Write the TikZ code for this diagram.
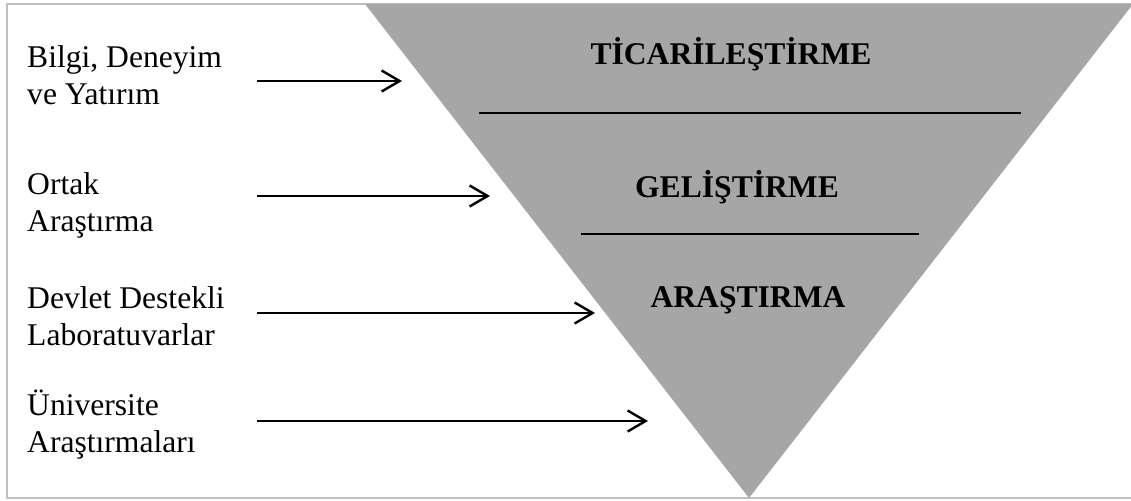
\documentclass[tikz,border=0pt]{standalone}
\usepackage{fontspec}
\setmainfont{Liberation Serif}
\usetikzlibrary{arrows.meta}
\definecolor{funnelgray}{RGB}{166,166,166}
\definecolor{framegray}{RGB}{192,192,192}
\tikzset{
  frameline/.style={draw=framegray, line width=1.5pt},
  funnel/.style={fill=funnelgray},
  lbl/.style={font=\fontsize{31.6}{37}\selectfont, inner sep=0pt, anchor=base west},
  stage/.style={font=\fontsize{31.6}{37}\selectfont\bfseries, inner sep=0pt, anchor=base},
  feed/.style={line width=2.4pt, -{Straight Barb[length=18pt,width=21pt,line width=2.4pt]}},
  divider/.style={line width=2.2pt}
}
\begin{document}
\begin{tikzpicture}[x=1pt,y=-1pt]
\useasboundingbox (0,0) rectangle (1131,500);
\begin{scope}
  \clip (0,0) rectangle (1131,500);
  \draw[frameline] (7,4) rectangle (1140,498);
  \fill[funnel] (365,4) -- (1133,4) -- (749,498) -- cycle;
\end{scope}

% stage names inside the funnel
\node[stage] (ticari) at (731,65) {TİCARİLEŞTİRME};
\node[stage] (gelis) at (737,197) {GELİŞTİRME};
\node[stage] (arast) at (748,307) {ARAŞTIRMA};

% dividers between the stages
\coordinate (d1a) at (479,113);
\coordinate (d1b) at (1021,113);
\coordinate (d2a) at (581,234);
\coordinate (d2b) at (919,234);
\draw[divider] (d1a) -- (d1b);
\draw[divider] (d2a) -- (d2b);

% sources feeding the funnel
\node[lbl] (src1a) at (27,68) {Bilgi, Deneyim};
\node[lbl] (src1b) at (27,105) {ve Yatırım};
\node[lbl] (src2a) at (27,194) {Ortak};
\node[lbl] (src2b) at (27,231) {Araştırma};
\node[lbl] (src3a) at (27,308) {Devlet Destekli};
\node[lbl] (src3b) at (27,345) {Laboratuvarlar};
\node[lbl] (src4a) at (27,415) {Üniversite};
\node[lbl] (src4b) at (27,452) {Araştırmaları};

\coordinate (a1s) at (257,81);  \coordinate (a1e) at (402,81);
\coordinate (a2s) at (257,196); \coordinate (a2e) at (490,196);
\coordinate (a3s) at (257,313); \coordinate (a3e) at (595,313);
\coordinate (a4s) at (257,421); \coordinate (a4e) at (648,421);
\draw[feed] (a1s) -- (a1e);
\draw[feed] (a2s) -- (a2e);
\draw[feed] (a3s) -- (a3e);
\draw[feed] (a4s) -- (a4e);
\end{tikzpicture}
\end{document}
